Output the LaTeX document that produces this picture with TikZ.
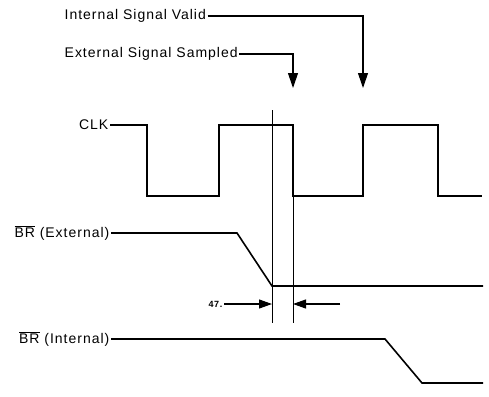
\documentclass[tikz,border=0pt]{standalone}
\usepackage{fontspec}
\setmainfont{Liberation Sans}[LetterSpace=7]
\usetikzlibrary{positioning,arrows.meta,calc}

\begin{document}
\begin{tikzpicture}[x=1pt, y=-1pt,
    every node/.style={font=\fontsize{14}{16}\selectfont, inner sep=1.5pt},
    sig/.style={line width=1.6pt, line join=miter},
    marker/.style={line width=0.8pt},
    pointer/.style={line width=1.1pt, -{Triangle[length=15pt,width=10pt]}},
    gap/.style={line width=1.1pt, -{Triangle[length=13pt,width=9pt]}}]
  \useasboundingbox (0,0) rectangle (489,396);

  % labels
  \node[anchor=west] (valid) at (63,16) {Internal Signal Valid};
  \node[anchor=west] (sampled) at (63,54) {External Signal Sampled};
  \node[anchor=east] (clk) at (110,125) {CLK};
  \node[anchor=east] (brext) at (111,233) {$\overline{\mbox{BR}}$ (External)};
  \node[anchor=east] (brint) at (111,339) {$\overline{\mbox{BR}}$ (Internal)};
  \node[anchor=east, font=\small\rmfamily\bfseries] (tgap) at (224,304) {47.};

  % sample pointers
  \coordinate (vtip) at (363,88);
  \coordinate (stip) at (293,88);
  \draw[pointer] (valid.east) -| (vtip);
  \draw[pointer] (sampled.east) -| (stip);

  % clock
  \draw[sig] (clk.east) -- (147,125) -- (147,196) -- (219,196) -- (219,125)
    -- (293,125) -- (293,196) -- (363,196) -- (363,125) -- (438,125)
    -- (438,196) -- (482,196);

  % sampling window
  \draw[marker] (272,110) -- (272,323);
  \draw[marker] (293,196) -- (293,323);

  % BR external / internal
  \draw[sig] (brext.east) -- (237,233) -- (272,286) -- (483,286);
  \draw[sig] (brint.east) -- (385,339) -- (422,383) -- (483,383);

  % window width
  \coordinate (gapin) at (340,304);
  \draw[gap] (tgap.east) -- (272,304);
  \draw[gap] (gapin) -- (293,304);
\end{tikzpicture}
\end{document}
